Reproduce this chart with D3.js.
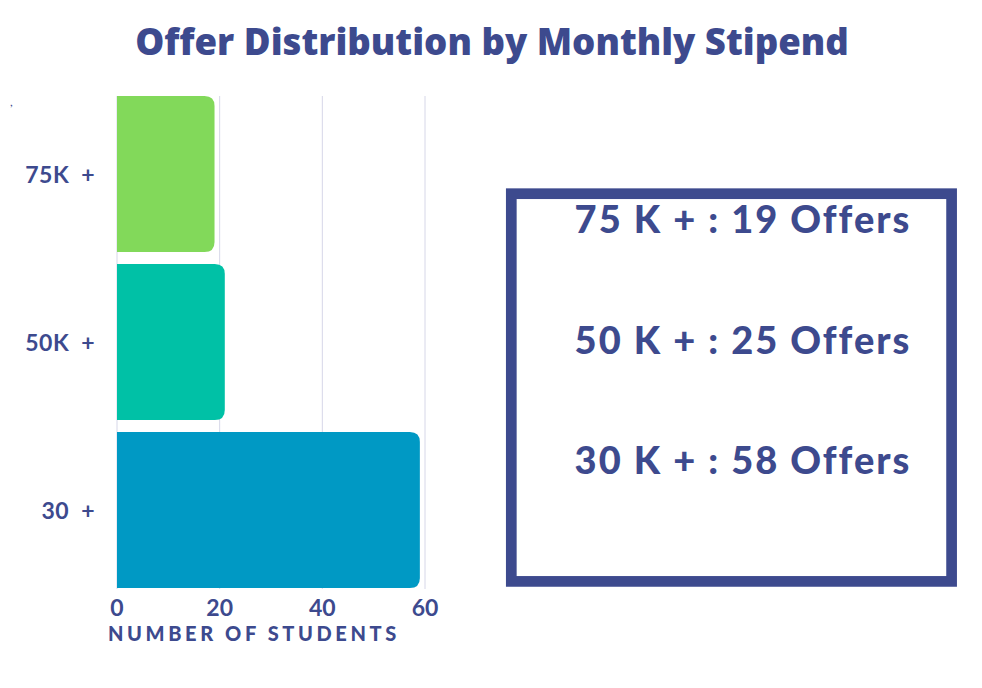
<!DOCTYPE html>
<html><head><meta charset="utf-8">
<script src="https://cdn.jsdelivr.net/npm/d3@7"></script>
<style>
html,body{margin:0;padding:0;background:#fff;}
svg{display:block;}
</style></head>
<body>
<svg id="chart" width="982" height="688"></svg>
<script>
const categories = ["75K +", "50K +", "30 +"];
const students = [19, 21, 59];
const barColors = ["#82d95a", "#00c1a6", "#0099c4"];
const xTicks = [0, 20, 40, 60];
const summaryLines = ["75 K + : 19 Offers", "50 K + : 25 Offers", "30 K + : 58 Offers"];
const titleText = "Offer Distribution by Monthly Stipend";
const xAxisTitle = "NUMBER OF STUDENTS";

const navy = "#3d4a8e";
const svg = d3.select("#chart");

const x = d3.scaleLinear().domain([0, 60]).range([117, 425]);
const y = d3.scaleBand().domain(categories).range([90, 594]).paddingInner(0.0714).paddingOuter(0.0357);

// title
svg.append("text").attr("x", 492).attr("y", 55).attr("text-anchor", "middle")
  .attr("font-family", "Open Sans").attr("font-weight", 800).attr("font-size", 36.6)
  .attr("fill", navy).text(titleText);

// gridlines
svg.append("g").selectAll("line").data(xTicks).join("line")
  .attr("x1", d => x(d)).attr("x2", d => x(d))
  .attr("y1", 96).attr("y2", 589)
  .attr("stroke", "#d6d7e8").attr("stroke-width", 1);

// bars (rounded on right end only)
function barPath(x0, x1, y0, h, r) {
  return `M${x0},${y0}H${x1 - r}Q${x1},${y0} ${x1},${y0 + r}V${y0 + h - r}Q${x1},${y0 + h} ${x1 - r},${y0 + h}H${x0}Z`;
}
svg.append("g").selectAll("path").data(categories).join("path")
  .attr("d", (c, i) => barPath(x(0), x(students[i]), y(c), y.bandwidth(), 10))
  .attr("fill", (c, i) => barColors[i]);

// y labels
svg.append("g").selectAll("text").data(categories).join("text")
  .attr("x", 95).attr("y", c => y(c) + y.bandwidth() / 2 + 9)
  .attr("text-anchor", "end")
  .attr("font-family", "Lato").attr("font-weight", 700).attr("font-size", 23)
  .attr("letter-spacing", 0.5)
  .attr("fill", navy).text(c => c.replace(" ", "\u2002"));

// x tick labels
svg.append("g").selectAll("text").data(xTicks).join("text")
  .attr("x", d => x(d)).attr("y", 616).attr("text-anchor", "middle")
  .attr("font-family", "Lato").attr("font-weight", 700).attr("font-size", 23)
  .attr("fill", navy).text(d => d);

svg.append("text").attr("x", 108).attr("y", 641)
  .attr("font-family", "Lato").attr("font-weight", 900).attr("font-size", 20)
  .attr("letter-spacing", 3.6).attr("fill", navy).text(xAxisTitle);

// stray mark
svg.append("text").attr("x", 10).attr("y", 106).attr("font-family", "Lato")
  .attr("font-size", 12).attr("fill", navy).text(",");

// summary box
svg.append("rect").attr("x", 511.3).attr("y", 193.7).attr("width", 440.3).attr("height", 387.7)
  .attr("fill", "none").attr("stroke", navy).attr("stroke-width", 10.7);

svg.append("g").selectAll("text").data(summaryLines).join("text")
  .attr("x", 743).attr("y", (d, i) => 233 + i * 120.5).attr("text-anchor", "middle")
  .attr("font-family", "Lato").attr("font-weight", 900).attr("font-size", 38)
  .attr("letter-spacing", 2).attr("fill", navy).text(d => d);
</script>
</body></html>
